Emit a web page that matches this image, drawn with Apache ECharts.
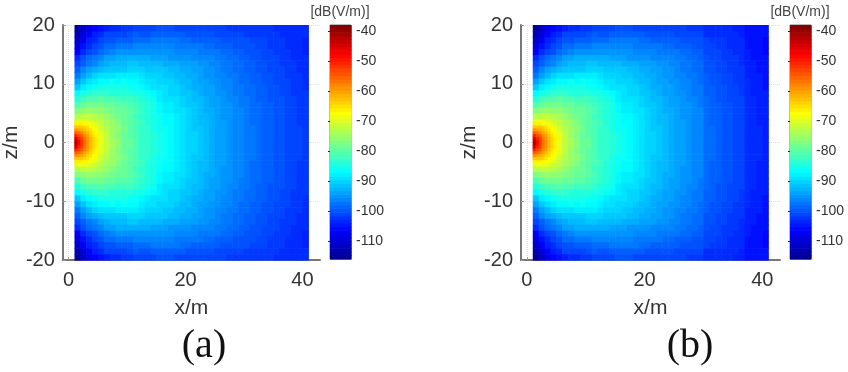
<!DOCTYPE html>
<html>
<head>
<meta charset="utf-8">
<style>html,body{margin:0;padding:0;background:#fff}#chart{width:848px;height:372px}</style>
<script src="https://cdn.jsdelivr.net/npm/echarts@6/dist/echarts.min.js"></script>
</head>
<body>
<div id="chart"></div>
<script>
// cell centres of the coarse table, z >= 0 only, the field is mirrored about z = 0
var xCells = [1.5,2.5,3.5,4.5,5.5,6.5,7.5,8.5,9.5,10.5,11.5,12.5,13.5,14.5,15.5,16.5,17.5,18.5,19.5,20.5,21.5,22.5,23.5,24.5,25.5,26.5,27.5,28.5,29.5,30.5,31.5,32.5,33.5,34.5,35.5,36.5,37.5,38.5,39.5,40.5];
var zCells = [0.5,1.5,2.5,3.5,4.5,5.5,6.5,7.5,8.5,9.5,10.5,11.5,12.5,13.5,14.5,15.5,16.5,17.5,18.5,19.5];

// dB(V/m)
var rowsA = [
[-45,-54,-60,-65,-69,-72,-74,-76,-79,-79,-81,-83,-83,-84,-85,-86,-87,-88,-89,-90,-90,-91,-92,-93,-94,-94,-95,-96,-96,-97,-97,-98,-99,-99,-100,-100,-101,-101,-101,-102],
[-53,-58,-62,-66,-69,-72,-75,-77,-79,-80,-81,-83,-83,-84,-85,-86,-87,-88,-89,-90,-90,-91,-92,-93,-94,-94,-95,-96,-96,-97,-97,-98,-99,-99,-100,-100,-101,-101,-101,-102],
[-61,-63,-65,-68,-71,-73,-75,-76,-78,-80,-81,-83,-83,-85,-86,-86,-87,-88,-89,-90,-91,-91,-92,-93,-94,-94,-95,-96,-96,-97,-97,-98,-99,-99,-100,-100,-101,-101,-101,-102],
[-67,-67,-69,-70,-72,-74,-75,-77,-79,-80,-81,-82,-84,-85,-86,-87,-87,-88,-89,-90,-91,-92,-92,-93,-94,-94,-95,-96,-96,-97,-98,-98,-99,-99,-100,-100,-101,-101,-102,-102],
[-73,-72,-72,-73,-74,-75,-77,-78,-79,-80,-82,-83,-84,-85,-86,-87,-87,-88,-89,-90,-91,-92,-92,-93,-94,-95,-95,-96,-96,-97,-98,-98,-99,-99,-100,-100,-101,-101,-102,-102],
[-77,-76,-75,-76,-76,-77,-78,-79,-79,-80,-81,-83,-84,-85,-87,-88,-88,-89,-89,-90,-91,-92,-93,-93,-94,-95,-95,-96,-96,-97,-98,-98,-99,-99,-100,-100,-101,-101,-102,-102],
[-81,-79,-78,-78,-78,-79,-79,-80,-80,-81,-82,-83,-84,-85,-87,-88,-88,-89,-90,-91,-91,-92,-93,-94,-94,-95,-95,-96,-97,-97,-98,-98,-99,-99,-100,-100,-101,-101,-102,-102],
[-84,-82,-81,-81,-80,-81,-81,-82,-82,-82,-83,-84,-85,-86,-88,-89,-89,-89,-90,-91,-92,-92,-93,-94,-94,-95,-96,-96,-97,-97,-98,-99,-99,-100,-100,-100,-101,-101,-102,-102],
[-87,-85,-84,-83,-83,-83,-84,-84,-84,-84,-85,-85,-86,-87,-88,-89,-90,-90,-91,-91,-92,-93,-94,-94,-95,-95,-96,-97,-97,-98,-98,-99,-99,-100,-100,-101,-101,-102,-102,-102],
[-91,-88,-87,-86,-85,-85,-85,-85,-85,-86,-86,-87,-88,-89,-89,-89,-90,-90,-91,-92,-93,-93,-94,-94,-95,-96,-96,-97,-97,-98,-98,-99,-99,-100,-100,-101,-101,-102,-102,-103],
[-94,-91,-89,-88,-87,-87,-86,-87,-86,-87,-87,-88,-89,-89,-90,-90,-90,-91,-92,-92,-93,-94,-94,-95,-95,-96,-96,-97,-98,-98,-99,-99,-100,-100,-101,-101,-101,-102,-102,-103],
[-97,-94,-92,-90,-89,-89,-89,-88,-88,-88,-88,-89,-90,-90,-90,-91,-91,-92,-92,-93,-93,-94,-95,-95,-96,-96,-97,-97,-98,-98,-99,-99,-100,-100,-101,-101,-102,-102,-102,-103],
[-99,-96,-94,-93,-92,-91,-91,-91,-91,-90,-90,-90,-91,-91,-91,-91,-92,-92,-93,-93,-94,-94,-95,-95,-96,-97,-97,-98,-98,-99,-99,-100,-100,-101,-101,-101,-102,-102,-103,-103],
[-101,-99,-97,-96,-94,-93,-92,-92,-92,-91,-91,-92,-92,-92,-92,-93,-93,-93,-94,-94,-94,-95,-95,-96,-96,-97,-97,-98,-98,-99,-99,-100,-100,-101,-101,-102,-102,-102,-103,-103],
[-103,-100,-98,-97,-96,-94,-94,-93,-93,-93,-93,-93,-93,-94,-94,-94,-95,-95,-95,-95,-96,-96,-96,-96,-97,-97,-98,-98,-99,-99,-100,-100,-101,-101,-101,-102,-102,-103,-103,-103],
[-107,-103,-101,-100,-98,-97,-96,-95,-95,-95,-95,-95,-95,-95,-95,-95,-95,-96,-96,-96,-96,-97,-97,-97,-97,-98,-98,-99,-99,-100,-100,-100,-101,-101,-102,-102,-102,-103,-103,-104],
[-109,-105,-103,-101,-100,-98,-98,-97,-97,-97,-96,-96,-96,-96,-96,-96,-96,-97,-97,-97,-97,-97,-98,-98,-99,-99,-99,-100,-100,-100,-100,-101,-101,-102,-102,-102,-103,-103,-103,-104],
[-111,-107,-104,-103,-101,-100,-100,-99,-99,-99,-98,-98,-98,-97,-97,-97,-97,-97,-98,-98,-99,-99,-99,-99,-99,-100,-100,-100,-100,-100,-101,-101,-101,-102,-102,-102,-103,-103,-103,-104],
[-113,-109,-106,-104,-103,-101,-101,-101,-101,-100,-99,-100,-100,-99,-99,-99,-99,-99,-99,-100,-100,-100,-100,-100,-101,-101,-101,-101,-101,-102,-102,-102,-102,-102,-102,-103,-103,-103,-103,-103],
[-115,-111,-108,-106,-105,-104,-103,-103,-102,-102,-101,-101,-101,-101,-100,-100,-100,-101,-101,-101,-101,-101,-101,-101,-101,-101,-102,-102,-102,-102,-102,-102,-102,-102,-103,-103,-103,-103,-103,-103]
];

// dB(V/m), a little lower at the far right
var rowsB = [
[-45,-54,-60,-65,-69,-72,-74,-76,-79,-79,-81,-83,-83,-84,-85,-86,-87,-88,-89,-90,-90,-91,-92,-93,-94,-94,-95,-96,-96,-98,-98,-99,-100,-100,-101,-101,-103,-103,-103,-104],
[-53,-58,-62,-66,-69,-72,-75,-77,-79,-80,-81,-83,-83,-84,-85,-86,-87,-88,-89,-90,-90,-91,-92,-93,-94,-94,-95,-96,-96,-98,-98,-99,-100,-100,-101,-101,-103,-103,-103,-104],
[-61,-63,-65,-68,-71,-73,-75,-76,-78,-80,-81,-83,-83,-85,-86,-86,-87,-88,-89,-90,-91,-91,-92,-93,-94,-94,-95,-96,-96,-98,-98,-99,-100,-100,-101,-101,-103,-103,-103,-104],
[-67,-67,-69,-70,-72,-74,-75,-77,-79,-80,-81,-82,-84,-85,-86,-87,-87,-88,-89,-90,-91,-92,-92,-93,-94,-94,-95,-96,-96,-98,-99,-99,-100,-100,-101,-101,-103,-103,-104,-104],
[-73,-72,-72,-73,-74,-75,-77,-78,-79,-80,-82,-83,-84,-85,-86,-87,-87,-88,-89,-90,-91,-92,-92,-93,-94,-95,-95,-96,-96,-98,-99,-99,-100,-100,-101,-101,-103,-103,-104,-104],
[-77,-76,-75,-76,-76,-77,-78,-79,-79,-80,-81,-83,-84,-85,-87,-88,-88,-89,-89,-90,-91,-92,-93,-93,-94,-95,-95,-96,-96,-98,-99,-99,-100,-100,-101,-101,-103,-103,-104,-104],
[-81,-79,-78,-78,-78,-79,-79,-80,-80,-81,-82,-83,-84,-85,-87,-88,-88,-89,-90,-91,-91,-92,-93,-94,-94,-95,-95,-96,-97,-98,-99,-99,-100,-100,-101,-101,-103,-103,-104,-104],
[-84,-82,-81,-81,-80,-81,-81,-82,-82,-82,-83,-84,-85,-86,-88,-89,-89,-89,-90,-91,-92,-92,-93,-94,-94,-95,-96,-96,-97,-98,-99,-100,-100,-101,-101,-101,-103,-103,-104,-104],
[-87,-85,-84,-83,-83,-83,-84,-84,-84,-84,-85,-85,-86,-87,-88,-89,-90,-90,-91,-91,-92,-93,-94,-94,-95,-95,-96,-97,-97,-99,-99,-100,-100,-101,-101,-102,-103,-104,-104,-104],
[-91,-88,-87,-86,-85,-85,-85,-85,-85,-86,-86,-87,-88,-89,-89,-89,-90,-90,-91,-92,-93,-93,-94,-94,-95,-96,-96,-97,-97,-99,-99,-100,-100,-101,-101,-102,-103,-104,-104,-105],
[-94,-91,-89,-88,-87,-87,-86,-87,-86,-87,-87,-88,-89,-89,-90,-90,-90,-91,-92,-92,-93,-94,-94,-95,-95,-96,-96,-97,-98,-99,-100,-100,-101,-101,-102,-102,-103,-104,-104,-105],
[-97,-94,-92,-90,-89,-89,-89,-88,-88,-88,-88,-89,-90,-90,-90,-91,-91,-92,-92,-93,-93,-94,-95,-95,-96,-96,-97,-97,-98,-99,-100,-100,-101,-101,-102,-102,-104,-104,-104,-105],
[-99,-96,-94,-93,-92,-91,-91,-91,-91,-90,-90,-90,-91,-91,-91,-91,-92,-92,-93,-93,-94,-94,-95,-95,-96,-97,-97,-98,-98,-100,-100,-101,-101,-102,-102,-102,-104,-104,-105,-105],
[-101,-99,-97,-96,-94,-93,-92,-92,-92,-91,-91,-92,-92,-92,-92,-93,-93,-93,-94,-94,-94,-95,-95,-96,-96,-97,-97,-98,-98,-100,-100,-101,-101,-102,-102,-103,-104,-104,-105,-105],
[-103,-100,-98,-97,-96,-94,-94,-93,-93,-93,-93,-93,-93,-94,-94,-94,-95,-95,-95,-95,-96,-96,-96,-96,-97,-97,-98,-98,-99,-100,-101,-101,-102,-102,-102,-103,-104,-105,-105,-105],
[-107,-103,-101,-100,-98,-97,-96,-95,-95,-95,-95,-95,-95,-95,-95,-95,-95,-96,-96,-96,-96,-97,-97,-97,-97,-98,-98,-99,-99,-101,-101,-101,-102,-102,-103,-103,-104,-105,-105,-106],
[-109,-105,-103,-101,-100,-98,-98,-97,-97,-97,-96,-96,-96,-96,-96,-96,-96,-97,-97,-97,-97,-97,-98,-98,-99,-99,-99,-100,-100,-101,-101,-102,-102,-103,-103,-103,-105,-105,-105,-106],
[-111,-107,-104,-103,-101,-100,-100,-99,-99,-99,-98,-98,-98,-97,-97,-97,-97,-97,-98,-98,-99,-99,-99,-99,-99,-100,-100,-100,-100,-101,-102,-102,-102,-103,-103,-103,-105,-105,-105,-106],
[-113,-109,-106,-104,-103,-101,-101,-101,-101,-100,-99,-100,-100,-99,-99,-99,-99,-99,-99,-100,-100,-100,-100,-100,-101,-101,-101,-101,-101,-103,-103,-103,-103,-103,-103,-104,-105,-105,-105,-105],
[-115,-111,-108,-106,-105,-104,-103,-103,-102,-102,-101,-101,-101,-101,-100,-100,-100,-101,-101,-101,-101,-101,-101,-101,-101,-101,-102,-102,-102,-103,-103,-103,-103,-103,-104,-104,-105,-105,-105,-105]
];

// finer cells close to the source, same in both panels
var xNear = [1.25,1.75,2.25,2.75,3.25,3.75,4.25,4.75];
var zNear = [0.25,0.75,1.25,1.75,2.25,2.75,3.25,3.75];
var nearRows = [
[-42,-48,-52,-56,-59,-62,-64,-66],
[-45,-50,-53,-57,-59,-62,-64,-66],
[-50,-53,-55,-58,-60,-63,-65,-67],
[-55,-56,-58,-60,-62,-64,-66,-67],
[-59,-60,-61,-62,-64,-65,-67,-68],
[-63,-63,-63,-64,-65,-67,-68,-69],
[-66,-66,-66,-67,-67,-68,-69,-70],
[-70,-69,-68,-69,-69,-70,-71,-72]
];

// colour bar steps
var barLevels = [-115.4,-114.2,-113,-111.8,-110.6,-109.4,-108.2,-107,-105.8,-104.6,-103.4,-102.2,-101,-99.8,-98.6,-97.4,-96.2,-95,-93.8,-92.6,-91.4,-90.2,-89,-87.8,-86.6,-85.4,-84.2,-83,-81.8,-80.6,-79.4,-78.2,-77,-75.8,-74.6,-73.4,-72.2,-71,-69.8,-68.6,-67.4,-66.2,-65,-63.8,-62.6,-61.4,-60.2,-59,-57.8,-56.6,-55.4,-54.2,-53,-51.8,-50.6,-49.4,-48.2,-47,-45.8,-44.6,-43.4,-42.2,-41,-39.8,-38.6];

var xTicks = [0, 20, 40];
var zTicks = [-20, -10, 0, 10, 20];
var barTicks = [-110, -100, -90, -80, -70, -60, -50, -40];
var jet = ['#00008f','#0000ff','#0080ff','#00ffff','#80ff80','#ffff00','#ff8000','#ff0000','#800000'];

function mirrored(rows, xs, zs) {
  var out = [];
  rows.forEach(function (row, i) {
    row.forEach(function (v, j) {
      out.push([xs[j], zs[i], v]);
      out.push([xs[j], -zs[i], v]);
    });
  });
  return out;
}

function cells(halfX, halfY) {
  return function (params, api) {
    var a = api.coord([api.value(0) - halfX, api.value(1) + halfY]);
    var b = api.coord([api.value(0) + halfX, api.value(1) - halfY]);
    return {
      type: 'rect',
      shape: { x: a[0], y: a[1], width: b[0] - a[0] + 0.6, height: b[1] - a[1] + 0.6 },
      style: { fill: api.visual('color') }
    };
  };
}

var axisColor = '#777';
var tickLabel = { color: '#333', fontSize: 20, fontFamily: 'Liberation Sans' };
var option = {
  animation: false,
  backgroundColor: '#fff',
  title: [],
  grid: [],
  xAxis: [],
  yAxis: [],
  series: [],
  visualMap: []
};

function addPanel(dx, rows, label, labelX) {
  var g = option.grid.length;
  var first = option.series.length;
  option.grid.push({ left: 61 + dx, top: 25, width: 259, height: 235 });
  option.grid.push({ left: 330 + dx, top: 25, width: 21, height: 234, show: true, borderColor: axisColor, borderWidth: 1, backgroundColor: 'transparent' });

  option.xAxis.push({
    gridIndex: g, type: 'value', min: -1, max: 43,
    name: 'x/m', nameLocation: 'middle', nameGap: 38,
    nameTextStyle: { color: '#333', fontSize: 21, fontFamily: 'Liberation Sans' },
    axisLine: { onZero: false, lineStyle: { color: axisColor, width: 2 } },
    axisTick: { inside: true, length: 3, lineStyle: { color: '#999' }, customValues: xTicks },
    axisLabel: Object.assign({ margin: 10, customValues: xTicks }, tickLabel),
    splitLine: { show: true, lineStyle: { color: '#ddd', type: 'dotted' } }
  });
  option.yAxis.push({
    gridIndex: g, type: 'value', min: -20, max: 20,
    name: 'z/m', nameLocation: 'middle', nameGap: 34,
    nameTextStyle: { color: '#333', fontSize: 21, fontFamily: 'Liberation Sans' },
    axisLine: { onZero: false, lineStyle: { color: axisColor, width: 2 } },
    axisTick: { inside: true, length: 3, lineStyle: { color: '#999' }, customValues: zTicks },
    axisLabel: Object.assign({ margin: 8, padding: [3, 0, 0, 0], customValues: zTicks }, tickLabel),
    splitLine: { show: true, lineStyle: { color: '#ddd', type: 'dotted' } }
  });
  option.xAxis.push({ gridIndex: g + 1, type: 'value', min: 0, max: 1, show: false });
  option.yAxis.push({
    gridIndex: g + 1, type: 'value', position: 'right', min: -116, max: -38,
    axisLine: { show: false },
    axisTick: { inside: true, length: 2, lineStyle: { color: '#222' }, customValues: barTicks },
    axisLabel: { margin: 5, padding: [2, 0, 0, 0], color: '#333', fontSize: 14, fontFamily: 'Liberation Sans', customValues: barTicks },
    splitLine: { show: false }
  });

  option.series.push({
    type: 'custom', xAxisIndex: g, yAxisIndex: g, encode: { x: 0, y: 1 }, silent: true,
    renderItem: cells(0.5, 0.5), data: mirrored(rows, xCells, zCells), progressive: 0
  });
  option.series.push({
    type: 'custom', xAxisIndex: g, yAxisIndex: g, encode: { x: 0, y: 1 }, silent: true,
    renderItem: cells(0.25, 0.25), data: mirrored(nearRows, xNear, zNear), progressive: 0
  });
  option.series.push({
    type: 'custom', xAxisIndex: g + 1, yAxisIndex: g + 1, encode: { x: 0, y: 1 }, silent: true,
    renderItem: cells(0.5, 0.6), data: barLevels.map(function (v) { return [0.5, v, v]; }), progressive: 0
  });
  option.visualMap.push({
    show: false, type: 'continuous', min: -116, max: -38, dimension: 2,
    seriesIndex: [first, first + 1, first + 2], inRange: { color: jet }
  });

  option.title.push({
    text: '[dB(V/m)]', left: 335 + dx, top: 0, textAlign: 'center',
    textStyle: { color: '#444', fontSize: 14, fontWeight: 'normal', fontFamily: 'Liberation Sans' }
  });
  option.title.push({
    text: label, left: labelX - 5, top: 321, textAlign: 'center',
    textStyle: { color: '#111', fontSize: 40, fontWeight: 'normal', fontFamily: 'Liberation Serif' }
  });
}

addPanel(0, rowsA, '(a)', 204);
addPanel(460, rowsB, '(b)', 690);

var chart = echarts.init(document.getElementById('chart'));
chart.setOption(option);
</script>
</body>
</html>
